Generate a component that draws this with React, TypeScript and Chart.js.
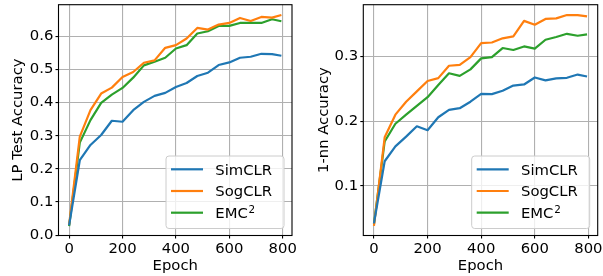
import React, { useEffect, useRef } from "react";
import { Chart, registerables } from "chart.js";

Chart.register(...registerables);

// ---------- data ----------
const epochs = [0, 40, 80, 120, 160, 200, 240, 280, 320, 360, 400, 440, 480, 520, 560, 600, 640, 680, 720, 760, 795];

const seriesNames = ["SimCLR", "SogCLR", "EMC²"];
const seriesColors = ["#1f77b4", "#ff7f0e", "#2ca02c"];

const lpSimclr = [0.03, 0.226, 0.272, 0.302, 0.345, 0.342, 0.377, 0.402, 0.42, 0.429, 0.447, 0.459, 0.48, 0.49, 0.513, 0.521, 0.535, 0.538, 0.547, 0.546, 0.541];
const lpSogclr = [0.032, 0.297, 0.377, 0.427, 0.445, 0.477, 0.492, 0.52, 0.527, 0.565, 0.573, 0.593, 0.625, 0.62, 0.635, 0.64, 0.655, 0.646, 0.658, 0.656, 0.664];
const lpEmc2 = [0.027, 0.279, 0.347, 0.399, 0.424, 0.444, 0.475, 0.512, 0.523, 0.535, 0.563, 0.573, 0.608, 0.615, 0.631, 0.631, 0.64, 0.64, 0.64, 0.651, 0.645];

const nnSimclr = [0.042, 0.138, 0.161, 0.176, 0.192, 0.186, 0.206, 0.2175, 0.22, 0.23, 0.242, 0.2418, 0.247, 0.255, 0.2567, 0.2675, 0.263, 0.266, 0.267, 0.272, 0.269];
const nnSogclr = [0.038, 0.175, 0.21, 0.23, 0.246, 0.262, 0.2665, 0.2856, 0.287, 0.299, 0.3206, 0.3216, 0.328, 0.331, 0.355, 0.349, 0.358, 0.3588, 0.364, 0.364, 0.362];
const nnEmc2 = [0.041, 0.1686, 0.196, 0.21, 0.2237, 0.237, 0.256, 0.274, 0.27, 0.28, 0.297, 0.299, 0.313, 0.31, 0.3155, 0.312, 0.3258, 0.33, 0.335, 0.332, 0.334];

const xTicks = [0, 200, 400, 600, 800];
const lpYTicks = [0.0, 0.1, 0.2, 0.3, 0.4, 0.5, 0.6];
const nnYTicks = [0.1, 0.2, 0.3];

const xTitle = "Epoch";
const lpYTitle = "LP Test Accuracy";
const nnYTitle = "1-nn Accuracy";

// ---------- helpers ----------
const FONT_FAMILY = '"DejaVu Sans", "Liberation Sans", sans-serif';
const FONT_SIZE = 14.8;

function drawLabel(ctx: CanvasRenderingContext2D, text: string, x: number, y: number) {
  // render a trailing "²" as a mathtext-like superscript
  ctx.font = `${FONT_SIZE}px ${FONT_FAMILY}`;
  if (text.endsWith("²")) {
    const base = text.slice(0, -1);
    ctx.fillText(base, x, y);
    const w = ctx.measureText(base).width;
    ctx.font = `${FONT_SIZE * 0.7}px ${FONT_FAMILY}`;
    ctx.fillText("2", x + w + 0.8, y - 5.6);
  } else {
    ctx.fillText(text, x, y);
  }
}

const framePlugin = {
  id: "mplFrameLegend",
  afterDatasetsDraw(chart: any) {
    const { ctx, chartArea: a } = chart;
    ctx.save();
    ctx.strokeStyle = "#000";
    ctx.lineWidth = 1.1;
    ctx.strokeRect(a.left, a.top, a.right - a.left, a.bottom - a.top);

    const w = 118;
    const h = 72.5;
    const x0 = a.right - 8 - w;
    const y0 = a.bottom - 7 - h;
    ctx.beginPath();
    (ctx as any).roundRect(x0, y0, w, h, 3);
    ctx.fillStyle = "rgba(255,255,255,0.8)";
    ctx.fill();
    ctx.strokeStyle = "#cccccc";
    ctx.lineWidth = 1;
    ctx.stroke();

    chart.data.datasets.forEach((ds: any, i: number) => {
      const cy = y0 + 13.3 + i * 21.7;
      ctx.beginPath();
      ctx.moveTo(x0 + 5, cy);
      ctx.lineTo(x0 + 37, cy);
      ctx.strokeStyle = ds.borderColor;
      ctx.lineWidth = 2.2;
      ctx.lineCap = "butt";
      ctx.stroke();
      ctx.fillStyle = "#000";
      ctx.textAlign = "left";
      ctx.textBaseline = "alphabetic";
      drawLabel(ctx, ds.label, x0 + 49.3, cy + 5.4);
    });
    ctx.restore();
  },
};

type PanelProps = {
  series: number[][];
  yTicks: number[];
  yMin: number;
  yMax: number;
  yTitle: string;
  width: number;
  height: number;
  areaLeft: number;
  areaRight: number;
  yTitlePad: number;
};

function Panel(p: PanelProps) {
  const ref = useRef<HTMLCanvasElement | null>(null);
  useEffect(() => {
    if (!ref.current) return;
    const areaTop = 4.7;
    const areaBottom = 235.5;
    const chart = new Chart(ref.current, {
      type: "line",
      data: {
        datasets: p.series.map((vals, i) => ({
          label: seriesNames[i],
          data: epochs.map((e, j) => ({ x: e, y: vals[j] })),
          borderColor: seriesColors[i],
          backgroundColor: seriesColors[i],
          borderWidth: 2.2,
          pointRadius: 0,
          tension: 0,
          fill: false,
          borderJoinStyle: "round",
          borderCapStyle: "butt",
        })),
      },
      options: {
        responsive: false,
        animation: false,
        devicePixelRatio: 1,
        layout: {
          padding: { left: 0, top: areaTop, right: p.width - p.areaRight, bottom: 0 },
        },
        plugins: {
          legend: { display: false },
          tooltip: { enabled: false },
        },
        scales: {
          x: {
            type: "linear",
            min: -39.75,
            max: 834.75,
            afterBuildTicks: (s: any) => {
              s.ticks = xTicks.map((v) => ({ value: v }));
            },
            afterFit: (s: any) => {
              s.height = p.height - areaBottom;
              s.paddingLeft = 0;
              s.paddingRight = 0;
            },
            grid: {
              color: "#b0b0b0",
              lineWidth: 1.1,
              drawTicks: true,
              tickLength: 3,
              tickColor: "#000",
              tickWidth: 1.1,
            },
            border: { display: false },
            ticks: {
              color: "#000",
              padding: 1.4,
              maxRotation: 0,
              font: { family: FONT_FAMILY, size: FONT_SIZE },
              callback: (v: any) => String(v),
            },
            title: {
              display: true,
              text: xTitle,
              color: "#000",
              padding: { top: 0, bottom: 1.1 },
              font: { family: FONT_FAMILY, size: FONT_SIZE },
            },
          },
          y: {
            type: "linear",
            min: p.yMin,
            max: p.yMax,
            afterBuildTicks: (s: any) => {
              s.ticks = p.yTicks.map((v) => ({ value: v }));
            },
            afterFit: (s: any) => {
              s.width = p.areaLeft;
              s.paddingTop = 0;
              s.paddingBottom = 0;
            },
            grid: {
              color: "#b0b0b0",
              lineWidth: 1.1,
              drawTicks: true,
              tickLength: 3,
              tickColor: "#000",
              tickWidth: 1.1,
            },
            border: { display: false },
            ticks: {
              color: "#000",
              padding: 2.2,
              font: { family: FONT_FAMILY, size: FONT_SIZE },
              callback: (v: any) => Number(v).toFixed(1),
            },
            title: {
              display: true,
              text: p.yTitle,
              color: "#000",
              padding: { top: p.yTitlePad, bottom: 0 },
              font: { family: FONT_FAMILY, size: FONT_SIZE },
            },
          },
        },
      },
      plugins: [framePlugin],
    } as any);
    return () => chart.destroy();
  }, []);
  return (
    <canvas
      ref={ref}
      width={p.width}
      height={p.height}
      style={{ width: p.width, height: p.height, display: "block" }}
    />
  );
}

export default function App() {
  return (
    <div style={{ position: "fixed", left: 0, top: 0, width: 603, height: 276, background: "#fff" }}>
      <div style={{ position: "absolute", left: 0, top: 0 }}>
        <Panel
          series={[lpSimclr, lpSogclr, lpEmc2]}
          yTicks={lpYTicks}
          yMin={-0.001}
          yMax={0.695}
          yTitle={lpYTitle}
          width={300}
          height={276}
          areaLeft={58.5}
          areaRight={292}
          yTitlePad={9.4}
        />
      </div>
      <div style={{ position: "absolute", left: 300, top: 0 }}>
        <Panel
          series={[nnSimclr, nnSogclr, nnEmc2]}
          yTicks={nnYTicks}
          yMin={0.0232}
          yMax={0.38}
          yTitle={nnYTitle}
          width={303}
          height={276}
          areaLeft={63.3}
          areaRight={297.7}
          yTitlePad={15.1}
        />
      </div>
    </div>
  );
}
